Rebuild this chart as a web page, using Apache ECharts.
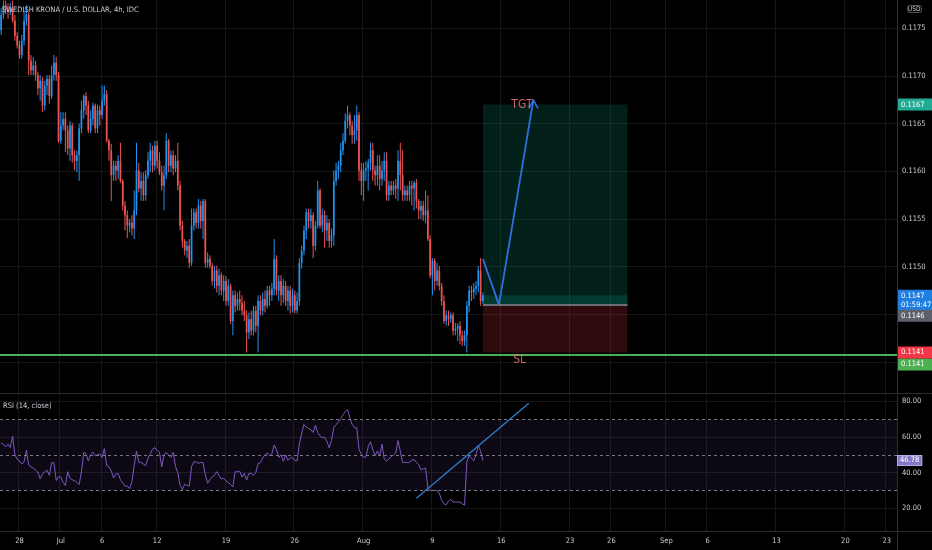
<!DOCTYPE html>
<html><head><meta charset="utf-8">
<script src="https://cdn.jsdelivr.net/npm/echarts@6/dist/echarts.min.js"></script>
<style>html,body{margin:0;padding:0;background:#000;}#c{width:932px;height:550px;}</style>
</head><body><div id="c"></div>
<script>
// ---- calendar (4h bars, 6 per trading day) ----
const tradingDays = ['2021-06-24','2021-06-25','2021-06-28','2021-06-29','2021-06-30','2021-07-01','2021-07-02','2021-07-05','2021-07-06','2021-07-07','2021-07-08','2021-07-09','2021-07-12','2021-07-13','2021-07-14','2021-07-15','2021-07-16','2021-07-19','2021-07-20','2021-07-21','2021-07-22','2021-07-23','2021-07-26','2021-07-27','2021-07-28','2021-07-29','2021-07-30','2021-08-02','2021-08-03','2021-08-04','2021-08-05','2021-08-06','2021-08-09','2021-08-10','2021-08-11','2021-08-12','2021-08-13','2021-08-16','2021-08-17','2021-08-18','2021-08-19','2021-08-20','2021-08-23','2021-08-24','2021-08-25','2021-08-26','2021-08-27','2021-08-30','2021-08-31','2021-09-01','2021-09-02','2021-09-03','2021-09-06','2021-09-07','2021-09-08','2021-09-09','2021-09-10','2021-09-13','2021-09-14','2021-09-15','2021-09-16','2021-09-17','2021-09-20','2021-09-21','2021-09-22','2021-09-23'];
const barHours = ['00:00','04:00','08:00','12:00','16:00','20:00'];
const firstBar = '2021-06-24 16:00';
const lastBar = '2021-09-23 16:00';
const tickDays = ['2021-06-28','2021-07-01','2021-07-06','2021-07-12','2021-07-19','2021-07-26','2021-08-02','2021-08-09','2021-08-16','2021-08-23','2021-08-26','2021-09-01','2021-09-06','2021-09-13','2021-09-20','2021-09-23'];
const tickLabels = ['28','Jul','6','12','19','26','Aug','9','16','23','26','Sep','6','13','20','23'];
const priceTicks = [0.1140,0.1145,0.1150,0.1155,0.1160,0.1165,0.1170,0.1175];
const rsiTicks = [20,40,60,80];

// ---- OHLC (USD per SEK) ----
const openP = [0.11748,0.11764,0.11774,0.11769,0.11767,0.11771,0.11758,0.11742,0.11732,0.11722,
0.11737,0.11758,0.11764,0.11716,0.11706,0.11711,0.11701,0.11687,0.11695,0.11669,
0.11690,0.11697,0.11679,0.11701,0.11714,0.11701,0.11632,0.11648,0.11655,0.11643,
0.11624,0.11648,0.11617,0.11611,0.11617,0.11645,0.11664,0.11679,0.11669,0.11643,
0.11655,0.11669,0.11645,0.11664,0.11659,0.11674,0.11681,0.11632,0.11622,0.11596,
0.11606,0.11601,0.11611,0.11590,0.11564,0.11554,0.11543,0.11546,0.11540,0.11559,
0.11601,0.11582,0.11590,0.11575,0.11596,0.11611,0.11622,0.11606,0.11627,0.11611,
0.11599,0.11585,0.11596,0.11632,0.11606,0.11617,0.11603,0.11611,0.11585,0.11543,
0.11527,0.11517,0.11522,0.11504,0.11543,0.11557,0.11546,0.11564,0.11548,0.11569,
0.11504,0.11508,0.11501,0.11485,0.11496,0.11480,0.11491,0.11475,0.11485,0.11464,
0.11480,0.11443,0.11470,0.11459,0.11466,0.11462,0.11454,0.11449,0.11431,0.11445,
0.11433,0.11454,0.11438,0.11464,0.11454,0.11466,0.11459,0.11475,0.11470,0.11477,
0.11508,0.11475,0.11485,0.11470,0.11480,0.11464,0.11475,0.11459,0.11470,0.11454,
0.11464,0.11504,0.11517,0.11538,0.11557,0.11548,0.11554,0.11522,0.11543,0.11580,
0.11543,0.11554,0.11538,0.11546,0.11527,0.11533,0.11590,0.11601,0.11606,0.11622,
0.11632,0.11653,0.11659,0.11648,0.11638,0.11643,0.11659,0.11601,0.11590,0.11601,
0.11603,0.11609,0.11622,0.11601,0.11596,0.11606,0.11592,0.11601,0.11611,0.11575,
0.11585,0.11580,0.11585,0.11582,0.11611,0.11596,0.11575,0.11580,0.11575,0.11585,
0.11582,0.11588,0.11569,0.11559,0.11564,0.11554,0.11559,0.11529,0.11491,0.11506,
0.11485,0.11496,0.11480,0.11464,0.11443,0.11449,0.11445,0.11449,0.11433,0.11435,
0.11438,0.11428,0.11422,0.11428,0.11459,0.11475,0.11473,0.11477,0.11480,0.11496,0.11464];
const closeP = [0.11764,0.11774,0.11769,0.11767,0.11771,0.11758,0.11742,0.11732,0.11722,0.11737,
0.11758,0.11764,0.11716,0.11706,0.11711,0.11701,0.11687,0.11695,0.11669,0.11690,
0.11697,0.11679,0.11701,0.11714,0.11701,0.11632,0.11648,0.11655,0.11643,0.11624,
0.11648,0.11617,0.11611,0.11617,0.11645,0.11664,0.11679,0.11669,0.11643,0.11655,
0.11669,0.11645,0.11664,0.11659,0.11674,0.11681,0.11632,0.11622,0.11596,0.11606,
0.11601,0.11611,0.11590,0.11564,0.11554,0.11543,0.11546,0.11540,0.11559,0.11601,
0.11582,0.11590,0.11575,0.11596,0.11611,0.11622,0.11606,0.11627,0.11611,0.11599,
0.11585,0.11596,0.11632,0.11606,0.11617,0.11603,0.11611,0.11585,0.11543,0.11527,
0.11517,0.11522,0.11504,0.11543,0.11557,0.11546,0.11564,0.11548,0.11569,0.11504,
0.11508,0.11501,0.11485,0.11496,0.11480,0.11491,0.11475,0.11485,0.11464,0.11480,
0.11443,0.11470,0.11459,0.11466,0.11462,0.11454,0.11449,0.11431,0.11445,0.11433,
0.11454,0.11438,0.11464,0.11454,0.11466,0.11459,0.11475,0.11470,0.11477,0.11508,
0.11475,0.11485,0.11470,0.11480,0.11464,0.11475,0.11459,0.11470,0.11454,0.11464,
0.11504,0.11517,0.11538,0.11557,0.11548,0.11554,0.11522,0.11543,0.11580,0.11543,
0.11554,0.11538,0.11546,0.11527,0.11533,0.11590,0.11601,0.11606,0.11622,0.11632,
0.11653,0.11659,0.11648,0.11638,0.11643,0.11659,0.11601,0.11590,0.11601,0.11603,
0.11609,0.11622,0.11601,0.11596,0.11606,0.11592,0.11601,0.11611,0.11575,0.11585,
0.11580,0.11585,0.11582,0.11611,0.11596,0.11575,0.11580,0.11575,0.11585,0.11582,
0.11588,0.11569,0.11559,0.11564,0.11554,0.11559,0.11529,0.11491,0.11506,0.11485,
0.11496,0.11480,0.11464,0.11443,0.11449,0.11445,0.11449,0.11433,0.11435,0.11438,
0.11428,0.11422,0.11428,0.11459,0.11475,0.11473,0.11477,0.11480,0.11496,0.11464,0.11470];
const highP = [0.11771,0.11779,0.11779,0.11776,0.11777,0.11779,0.11764,0.11746,0.11737,0.11743,
0.11769,0.11774,0.11767,0.11722,0.11720,0.11716,0.11704,0.11701,0.11699,0.11695,
0.11701,0.11701,0.11711,0.11722,0.11720,0.11704,0.11662,0.11662,0.11662,0.11648,
0.11653,0.11651,0.11622,0.11622,0.11650,0.11674,0.11681,0.11683,0.11674,0.11664,
0.11672,0.11671,0.11670,0.11669,0.11690,0.11690,0.11685,0.11634,0.11629,0.11611,
0.11611,0.11617,0.11630,0.11592,0.11569,0.11559,0.11550,0.11554,0.11580,0.11630,
0.11609,0.11599,0.11599,0.11601,0.11620,0.11630,0.11627,0.11632,0.11632,0.11620,
0.11606,0.11606,0.11640,0.11634,0.11622,0.11622,0.11617,0.11630,0.11590,0.11548,
0.11529,0.11527,0.11529,0.11561,0.11561,0.11561,0.11571,0.11569,0.11571,0.11571,
0.11515,0.11512,0.11504,0.11501,0.11501,0.11498,0.11494,0.11491,0.11490,0.11487,
0.11482,0.11475,0.11475,0.11473,0.11475,0.11470,0.11464,0.11454,0.11452,0.11454,
0.11459,0.11459,0.11470,0.11470,0.11473,0.11475,0.11480,0.11480,0.11483,0.11529,
0.11512,0.11491,0.11491,0.11487,0.11485,0.11480,0.11480,0.11477,0.11475,0.11473,
0.11509,0.11522,0.11543,0.11561,0.11561,0.11561,0.11557,0.11548,0.11590,0.11582,
0.11561,0.11559,0.11554,0.11550,0.11540,0.11601,0.11609,0.11611,0.11630,0.11640,
0.11661,0.11669,0.11662,0.11653,0.11659,0.11669,0.11662,0.11609,0.11609,0.11611,
0.11613,0.11630,0.11630,0.11606,0.11617,0.11617,0.11611,0.11620,0.11620,0.11590,
0.11590,0.11590,0.11592,0.11622,0.11630,0.11622,0.11585,0.11585,0.11590,0.11590,
0.11590,0.11592,0.11571,0.11569,0.11569,0.11580,0.11575,0.11533,0.11509,0.11509,
0.11504,0.11501,0.11483,0.11470,0.11454,0.11454,0.11452,0.11452,0.11441,0.11441,
0.11443,0.11433,0.11433,0.11464,0.11480,0.11480,0.11483,0.11485,0.11501,0.11509,0.11473];
const lowP = [0.11743,0.11760,0.11765,0.11760,0.11764,0.11756,0.11737,0.11729,0.11718,0.11718,
0.11732,0.11753,0.11701,0.11701,0.11701,0.11695,0.11680,0.11674,0.11662,0.11664,
0.11680,0.11671,0.11676,0.11695,0.11695,0.11630,0.11629,0.11643,0.11620,0.11617,
0.11611,0.11609,0.11601,0.11599,0.11590,0.11640,0.11655,0.11659,0.11640,0.11640,
0.11648,0.11640,0.11640,0.11648,0.11655,0.11669,0.11630,0.11611,0.11569,0.11590,
0.11590,0.11592,0.11588,0.11559,0.11538,0.11530,0.11536,0.11533,0.11529,0.11554,
0.11578,0.11569,0.11569,0.11569,0.11592,0.11599,0.11599,0.11601,0.11603,0.11596,
0.11580,0.11559,0.11592,0.11599,0.11599,0.11596,0.11599,0.11580,0.11538,0.11520,
0.11512,0.11509,0.11499,0.11501,0.11538,0.11540,0.11540,0.11540,0.11529,0.11499,
0.11499,0.11498,0.11480,0.11477,0.11473,0.11470,0.11470,0.11464,0.11459,0.11459,
0.11440,0.11428,0.11452,0.11454,0.11454,0.11449,0.11443,0.11410,0.11424,0.11428,
0.11428,0.11431,0.11410,0.11449,0.11449,0.11452,0.11456,0.11459,0.11464,0.11470,
0.11470,0.11464,0.11459,0.11462,0.11459,0.11454,0.11451,0.11452,0.11451,0.11451,
0.11459,0.11498,0.11512,0.11529,0.11540,0.11540,0.11509,0.11517,0.11540,0.11540,
0.11536,0.11520,0.11527,0.11520,0.11520,0.11522,0.11585,0.11592,0.11599,0.11617,
0.11629,0.11645,0.11638,0.11629,0.11629,0.11632,0.11590,0.11575,0.11569,0.11590,
0.11580,0.11601,0.11590,0.11585,0.11585,0.11580,0.11585,0.11590,0.11569,0.11569,
0.11575,0.11575,0.11571,0.11569,0.11580,0.11569,0.11569,0.11569,0.11569,0.11564,
0.11559,0.11561,0.11550,0.11550,0.11548,0.11546,0.11527,0.11488,0.11470,0.11475,
0.11480,0.11475,0.11459,0.11440,0.11438,0.11438,0.11441,0.11428,0.11428,0.11422,
0.11419,0.11417,0.11417,0.11410,0.11452,0.11464,0.11466,0.11470,0.11473,0.11459,0.11461];

// ---- RSI (14, close) ----
const rsiValues = [56.5,55.9,54.4,56,54.1,60.5,50,47.5,46.5,44.8,
46,52.6,44.2,43.2,42.5,41.5,40.3,36.5,39,40.5,
41.3,38.5,45.5,45.7,35.6,37.8,37.5,34.5,32.8,40.5,
37,36,35.5,34.6,33.3,40.5,51.5,50.5,46.5,50,
51.5,49.4,50,50.4,48.5,53.5,43.9,43.2,41,37,
39.3,39.4,36,34.2,32.4,32.4,31,35,44,52,
46,45.7,44.8,44,48,50.5,53.2,54,52.5,51.5,
43.2,49.8,51.3,49.8,48.5,51.3,43.5,40,32.8,30.6,
33.5,32.8,32.5,43.5,46,46,45.2,45.7,45.7,38.8,
34,36,37.6,38.5,40.5,38.4,36.5,36.8,35.4,34.5,
33.4,32,40.5,40.5,40.8,37.5,39.5,35.8,39.5,39.5,
38.5,40,45.2,45.5,48,50,51,49.5,50.5,55.5,
53,48.5,50,46.3,50,47,48,48.5,46.8,46.5,
56,62,67,65.5,64.7,64,62.5,66.5,62.5,60.5,
59.5,59.8,57.5,54,58,65.5,66.8,68.5,70.3,72.4,
74.2,75.5,70.8,67,65.2,65.2,53,50.3,48.5,48.8,
54.5,57.3,53,49.4,52.2,49.6,56,47.5,46.5,47.5,
49,49.8,51,58,52,45.7,45.7,45.7,45.7,47,
47.3,45.8,44.5,41.5,42.2,42.5,31.5,30,30,30,
29.8,28.5,24.5,22.5,22,24,25,23.5,23.5,23.5,
23.5,22.6,21.7,46,49.4,48,46.7,50,55.5,52,46.78];
const rsiLevels = [70, 50, 30];

// ---- long position drawing & levels ----
const entryPrice = 0.1146, targetPrice = 0.1167, stopPrice = 0.1141, lastPrice = 0.1147;
const supportLevel = 0.11408;
const countdown = '01:59:47';
const positionBars = ['2021-08-12 16:00', '2021-08-27 04:00'];
const projectionPath = [['2021-08-12 16:00', 0.11508], ['2021-08-13 20:00', 0.1146], ['2021-08-18 08:00', 0.11675]];
const arrowHead = [['2021-08-18 00:00', 0.11666], ['2021-08-18 08:00', 0.11675], ['2021-08-18 16:00', 0.11666]];
const tgtLabel = ['2021-08-17 12:00', 0.1167];
const slLabel = ['2021-08-17 08:00', 0.11402];
const rsiTrend = [['2021-08-05 20:00', 25.6], ['2021-08-18 00:00', 78.9]];

// ---- build ----
const allBars = [];
tradingDays.forEach(d => barHours.forEach(h => allBars.push(d + ' ' + h)));
const categories = allBars.slice(allBars.indexOf(firstBar), allBars.indexOf(lastBar) + 1);
const tickMap = {};
tickDays.forEach((d, i) => { tickMap[d + ' 00:00'] = tickLabels[i]; });
const isTick = (idx, val) => Object.prototype.hasOwnProperty.call(tickMap, val);
const candleData = openP.map((o, i) => [i, o, closeP[i], lowP[i], highP[i]]);

const FONT = '"Liberation Sans Narrow", "DejaVu Sans Condensed", "Roboto Condensed", Roboto, sans-serif';
const TXT = '#c9ccd4';
const GRIDC = '#161616';
const SEP = '#2e2e2e';
const UP = '#2192f0', DOWN = '#ef5350';
const NOLINE = { color: 'rgba(0,0,0,0)', width: 0 };

function renderCandle(params, api) {
  const x = api.value(0), o = api.value(1), c = api.value(2), l = api.value(3), h = api.value(4);
  const pO = api.coord([x, o]), pC = api.coord([x, c]), pL = api.coord([x, l]), pH = api.coord([x, h]);
  const w = api.size([1, 0])[0] * 0.75;
  const col = c >= o ? UP : DOWN;
  const top = Math.min(pO[1], pC[1]);
  const hgt = Math.max(1, Math.abs(pO[1] - pC[1]));
  return { type: 'group', children: [
    { type: 'line', shape: { x1: pH[0], y1: pH[1], x2: pL[0], y2: pL[1] }, style: { stroke: col, lineWidth: 1 } },
    { type: 'rect', shape: { x: pO[0] - w / 2, y: top, width: w, height: hgt }, style: { fill: col } }
  ] };
}

function priceTag(bg, extra) {
  return Object.assign({
    show: true, position: 'end', distance: 1, color: '#fff', fontFamily: FONT, fontSize: 7.5,
    backgroundColor: bg, padding: [2, 2, 1, 3], width: 30, align: 'left', lineHeight: 9,
    formatter: p => p.value.toFixed(4)
  }, extra || {});
}

const option = {
  backgroundColor: '#000000',
  animation: false,
  title: [
    { text: 'SWEDISH KRONA / U.S. DOLLAR, 4h, IDC', left: 2, top: 6, padding: 0,
      textStyle: { color: TXT, fontSize: 7.5, fontWeight: 'normal', fontFamily: FONT } },
    { text: 'RSI (14, close)', left: 3, top: 402, padding: 0,
      textStyle: { color: TXT, fontSize: 7.5, fontWeight: 'normal', fontFamily: FONT } },
    { text: 'USD', left: 907, top: 5, padding: [1, 1, 0, 1], borderColor: '#555', borderWidth: 1, borderRadius: 2,
      textStyle: { color: TXT, fontSize: 6.5, fontWeight: 'normal', fontFamily: FONT } }
  ],
  grid: [
    { left: 0, right: 35, top: 0, height: 393 },
    { left: 0, right: 35, top: 395, height: 136 }
  ],
  xAxis: [
    { type: 'category', gridIndex: 0, data: categories, boundaryGap: true,
      axisLine: { show: true, lineStyle: { color: SEP } }, axisTick: { show: false },
      axisLabel: { show: false }, splitLine: { show: true, interval: isTick, lineStyle: { color: GRIDC } } },
    { type: 'category', gridIndex: 1, data: categories, boundaryGap: true,
      axisLine: { show: true, lineStyle: { color: SEP } }, axisTick: { show: false },
      axisLabel: { show: true, interval: isTick, formatter: v => tickMap[v] || '', color: TXT,
        fontSize: 7.5, fontFamily: FONT, margin: 6 },
      splitLine: { show: true, interval: isTick, lineStyle: { color: GRIDC } } }
  ],
  yAxis: [
    { type: 'value', gridIndex: 0, position: 'right', min: 0.1136755, max: 0.117797, scale: true,
      axisLine: { show: true, lineStyle: { color: SEP } },
      axisTick: { show: false, customValues: priceTicks },
      axisLabel: { customValues: priceTicks, formatter: v => v.toFixed(4), color: TXT, fontSize: 7.5, fontFamily: FONT, margin: 5 },
      splitLine: { show: true, lineStyle: { color: GRIDC } } },
    { type: 'value', gridIndex: 1, position: 'right', min: 7.25, max: 83.54,
      axisLine: { show: true, lineStyle: { color: SEP } },
      axisTick: { show: false, customValues: rsiTicks },
      axisLabel: { customValues: rsiTicks, formatter: v => v.toFixed(2), color: TXT, fontSize: 7.5, fontFamily: FONT, margin: 5 },
      splitLine: { show: true, lineStyle: { color: GRIDC } } }
  ],
  series: [
    { type: 'custom', name: 'SEKUSD', xAxisIndex: 0, yAxisIndex: 0, data: candleData,
      encode: { x: 0, y: [1, 2, 3, 4] }, renderItem: renderCandle, clip: true, z: 3,
      markArea: { silent: true, data: [
        [{ xAxis: positionBars[0], yAxis: entryPrice, itemStyle: { color: 'rgba(8,153,129,0.2)' } }, { xAxis: positionBars[1], yAxis: targetPrice }],
        [{ xAxis: positionBars[0], yAxis: entryPrice, itemStyle: { color: 'rgba(8,153,129,0.22)' } }, { xAxis: positionBars[1], yAxis: lastPrice }],
        [{ xAxis: positionBars[0], yAxis: stopPrice, itemStyle: { color: 'rgba(242,54,69,0.2)' } }, { xAxis: positionBars[1], yAxis: entryPrice }]
      ] },
      markLine: { silent: true, precision: 6, symbol: ['none', 'none'], data: [
        [{ coord: [positionBars[0], entryPrice], lineStyle: { color: '#6b6e78', width: 2, type: 'solid' }, label: { show: false } },
         { coord: [positionBars[1], entryPrice] }]
      ] } },
    { type: 'line', name: 'projection', xAxisIndex: 0, yAxisIndex: 0, data: projectionPath, symbol: 'none',
      lineStyle: { color: '#2f6fe0', width: 1.8 }, z: 4,
      markLine: { silent: true, precision: 6, symbol: ['none', 'none'], data: [
        { yAxis: supportLevel, lineStyle: { color: '#4caf50', width: 2, type: 'solid' }, label: priceTag('#4caf50', { offset: [0, 10] }) },
        { yAxis: targetPrice, lineStyle: NOLINE, label: priceTag('#22ab94') },
        { yAxis: lastPrice, lineStyle: NOLINE, label: priceTag('#1e7fe0', { offset: [0, 5], formatter: p => p.value.toFixed(4) + '\n' + countdown }) },
        { yAxis: entryPrice, lineStyle: NOLINE, label: priceTag('#5d606b', { offset: [0, 11] }) },
        { yAxis: stopPrice, lineStyle: NOLINE, label: priceTag('#f23645') }
      ] } },
    { type: 'line', name: 'arrow', xAxisIndex: 0, yAxisIndex: 0, data: arrowHead, symbol: 'none',
      lineStyle: { color: '#2f6fe0', width: 1.5 }, z: 4 },
    { type: 'scatter', name: 'labels', xAxisIndex: 0, yAxisIndex: 0, symbolSize: 2, itemStyle: { color: 'rgba(0,0,0,0)' }, z: 5,
      data: [
        { value: tgtLabel, label: { formatter: 'TGT' } },
        { value: slLabel, label: { formatter: 'SL' } }
      ],
      label: { show: true, position: 'inside', color: '#f77c80', fontSize: 12, fontFamily: FONT } },
    { type: 'line', name: 'RSI', xAxisIndex: 1, yAxisIndex: 1, data: rsiValues, symbol: 'none',
      lineStyle: { color: '#7e57c2', width: 1 },
      markArea: { silent: true, data: [[{ yAxis: rsiLevels[2], itemStyle: { color: 'rgba(126,87,194,0.1)' } }, { yAxis: rsiLevels[0] }]] },
      markLine: { silent: true, precision: 2, symbol: ['none', 'none'], data: [
        { yAxis: rsiLevels[0], lineStyle: { color: '#787b86', type: [3, 3], width: 1 }, label: { show: false } },
        { yAxis: rsiLevels[1], lineStyle: { color: '#787b86', type: [3, 3], width: 1 }, label: { show: false } },
        { yAxis: rsiLevels[2], lineStyle: { color: '#787b86', type: [3, 3], width: 1 }, label: { show: false } },
        { yAxis: rsiValues[rsiValues.length - 1], lineStyle: NOLINE,
          label: { show: true, position: 'end', distance: 1, color: '#fff', fontFamily: FONT, fontSize: 7.5,
            backgroundColor: '#8577c6', borderColor: '#b4abe6', borderWidth: 1, padding: [1, 2, 0, 2],
            formatter: p => p.value.toFixed(2) } }
      ] } },
    { type: 'line', name: 'RSI trend', xAxisIndex: 1, yAxisIndex: 1, data: rsiTrend, symbol: 'none',
      lineStyle: { color: '#2a84d2', width: 1.2 }, z: 4 }
  ],
  graphic: [
    { type: 'line', shape: { x1: 897, y1: 393.5, x2: 932, y2: 393.5 }, style: { stroke: SEP, lineWidth: 1 }, silent: true },
    { type: 'line', shape: { x1: 897, y1: 531.5, x2: 932, y2: 531.5 }, style: { stroke: SEP, lineWidth: 1 }, silent: true },
    { type: 'line', shape: { x1: 897.5, y1: 531, x2: 897.5, y2: 550 }, style: { stroke: SEP, lineWidth: 1 }, silent: true }
  ]
};
const chart = echarts.init(document.getElementById('c'), null, { renderer: 'canvas' });
chart.setOption(option);
</script>
</body></html>
